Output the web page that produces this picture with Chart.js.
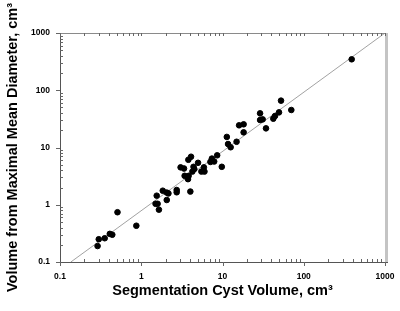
<!DOCTYPE html>
<html>
<head>
<meta charset="utf-8">
<script src="https://cdn.jsdelivr.net/npm/chart.js@4/dist/chart.umd.min.js"></script>
<style>
  html, body { margin: 0; padding: 0; background: #fff; }
  #wrap { width: 400px; height: 311px; }
</style>
</head>
<body>
<div id="wrap"><canvas id="myChart" width="400" height="311"></canvas></div>
<script>
// segmentation volume (x) vs volume from maximal mean diameter (y), cm3
let segVolume = [389, 52.5, 70.3, 29, 49.6, 44.3, 42.2, 29, 31.2, 34.3,
    16, 18.2, 18.2, 11.3, 11.7, 12.6, 14.9, 9.8, 8.6, 7.4,
    7.1, 7.9, 4.1, 3.8, 5.0, 4.4, 4.5, 5.9, 5.5, 6.0,
    3.05, 3.36, 4.26, 3.42, 3.83, 3.76, 4.02, 2.73, 2.73, 1.84,
    2.06, 2.16, 1.55, 2.06, 1.50, 1.59, 1.65, 0.51, 0.87, 0.41,
    0.44, 0.355, 0.30, 0.29];
let diamVolume = [347, 65.8, 45.2, 39.5, 41.1, 35.5, 31.9, 30.2, 31.0, 21.6,
    24.4, 25.4, 18.4, 15.3, 11.5, 10.1, 12.6, 4.6, 7.3, 6.4,
    5.6, 5.7, 6.9, 6.1, 5.4, 4.6, 4.2, 4.5, 3.8, 3.8,
    4.5, 4.3, 3.8, 3.2, 3.2, 2.8, 1.7, 1.81, 1.65, 1.76,
    1.63, 1.58, 1.44, 1.21, 1.04, 1.04, 0.82, 0.74, 0.43, 0.31,
    0.30, 0.26, 0.25, 0.19];

// reference line end points
let lineX = [0.136, 1000];
let lineY = [0.1, 1000];

let tickValues = [0.1, 1, 10, 100, 1000];
let tickLabels = ["0.1", "1", "10", "100", "1000"];

let points = segVolume.map((v, i) => ({x: v, y: diamVolume[i]}));
let linePoints = lineX.map((v, i) => ({x: v, y: lineY[i]}));

const frame = {
    id: 'frame_ticks',
    afterDatasetsDraw: (chart) => {
        const ctx = chart.ctx;
        const a = chart.chartArea;
        const xs = chart.scales.x;
        const ys = chart.scales.y;
        ctx.save();
        // grey shadow on the right
        ctx.fillStyle = '#c4c4c4';
        ctx.fillRect(a.right, a.top, 3, a.bottom - a.top + 1);
        ctx.lineWidth = 1;
        ctx.strokeStyle = '#8a8a8a';
        ctx.beginPath();
        ctx.moveTo(a.left, a.top + 0.5);
        ctx.lineTo(a.right, a.top + 0.5);
        ctx.stroke();
        ctx.strokeStyle = '#555';
        ctx.beginPath();
        ctx.moveTo(a.left + 0.5, a.top);
        ctx.lineTo(a.left + 0.5, a.bottom);
        ctx.moveTo(a.left, a.bottom + 0.5);
        ctx.lineTo(a.right + 3, a.bottom + 0.5);
        ctx.stroke();

        ctx.strokeStyle = '#666';
        ctx.beginPath();
        for (let d = 0; d < tickValues.length; d++) {
            const dec = tickValues[d];
            // major ticks
            const px = Math.round(xs.getPixelForValue(dec)) + 0.5;
            const py = Math.round(ys.getPixelForValue(dec)) + 0.5;
            ctx.moveTo(px, a.bottom);
            ctx.lineTo(px, a.bottom + 4);
            ctx.moveTo(px, a.top);
            ctx.lineTo(px, a.top + 3);
            ctx.moveTo(a.left, py);
            ctx.lineTo(a.left - 4, py);
            if (d === tickValues.length - 1) break;
            for (let m = 2; m <= 9; m++) {
                const mx = Math.round(xs.getPixelForValue(dec * m)) + 0.5;
                const my = Math.round(ys.getPixelForValue(dec * m)) + 0.5;
                ctx.moveTo(mx, a.bottom);
                ctx.lineTo(mx, a.bottom - 3);
                ctx.moveTo(mx, a.top);
                ctx.lineTo(mx, a.top + 3);
                ctx.moveTo(a.left, my);
                ctx.lineTo(a.left + 3, my);
            }
        }
        ctx.stroke();
        ctx.restore();
    }
};

const bg = {
    id: 'custom_canvas_background_color',
    beforeDraw: (chart) => {
        const ctx = chart.canvas.getContext('2d');
        ctx.save();
        ctx.globalCompositeOperation = 'destination-over';
        ctx.fillStyle = 'white';
        ctx.fillRect(0, 0, chart.width, chart.height);
        ctx.restore();
    }
};

const tickFont = {family: "'Liberation Sans', Arial, sans-serif", size: 8.5, weight: 'bold'};
const titleFont = {family: "'Liberation Sans', Arial, sans-serif", size: 14.5, weight: 'bold'};

const ctx = document.getElementById("myChart").getContext("2d");
const myChart = new Chart(ctx, {
    type: "scatter",
    plugins: [bg, frame],
    data: {
        datasets: [{
            data: points,
            backgroundColor: '#000',
            borderColor: '#000',
            pointRadius: 2.8,
            pointHoverRadius: 2.8
        }, {
            type: 'line',
            data: linePoints,
            borderColor: '#8a8a8a',
            borderWidth: 0.8,
            pointRadius: 0,
            fill: false
        }]
    },
    options: {
        responsive: false,
        animation: false,
        events: [],
        layout: {padding: {top: 33, right: 15, left: 0, bottom: 0}},
        plugins: {legend: {display: false}, tooltip: {enabled: false}},
        scales: {
            x: {
                type: 'logarithmic',
                min: 0.1,
                max: 1000,
                afterBuildTicks: (s) => { s.ticks = tickValues.map(v => ({value: v})); },
                afterFit: (s) => { s.height = 49; },
                grid: {display: false},
                border: {display: false},
                ticks: {
                    padding: 2,
                    maxRotation: 0,
                    autoSkip: false,
                    color: '#000',
                    font: tickFont,
                    callback: (v) => tickLabels[tickValues.indexOf(v)]
                },
                title: {
                    display: true,
                    text: 'Segmentation Cyst Volume, cm\u00b3',
                    color: '#000',
                    font: titleFont,
                    padding: {top: 0, bottom: 11}
                }
            },
            y: {
                type: 'logarithmic',
                min: 0.1,
                max: 1000,
                afterBuildTicks: (s) => { s.ticks = tickValues.map(v => ({value: v})); },
                afterFit: (s) => { s.width = 60; },
                grid: {display: false},
                border: {display: false},
                ticks: {
                    padding: 2,
                    autoSkip: false,
                    color: '#000',
                    font: tickFont,
                    callback: (v) => tickLabels[tickValues.indexOf(v)]
                },
                title: {
                    display: true,
                    text: 'Volume from Maximal Mean Diameter, cm\u00b3',
                    color: '#000',
                    font: titleFont,
                    padding: {top: 4, bottom: 0}
                }
            }
        }
    }
});
</script>
</body>
</html>
